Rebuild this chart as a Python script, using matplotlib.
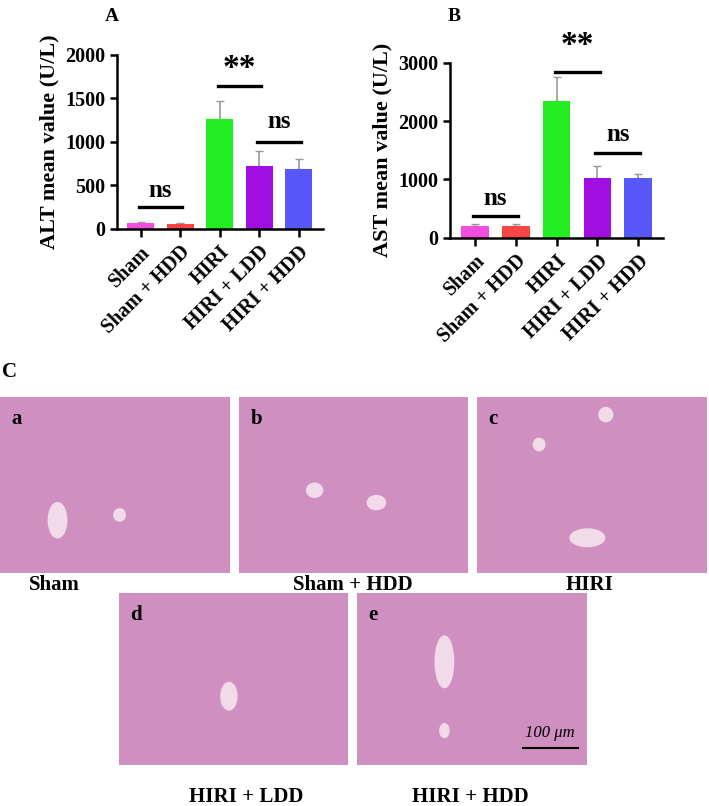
import matplotlib
matplotlib.use("Agg")
import matplotlib.pyplot as plt
from matplotlib.patches import Ellipse

plt.rcParams['font.family'] = ['Liberation Serif', 'DejaVu Serif']
plt.rcParams['font.weight'] = 'bold'

groups = ["Sham", "Sham + HDD", "HIRI", "HIRI + LDD", "HIRI + HDD"]
colors = ["#f24ce0", "#f54545", "#22ee22", "#a10ee0", "#5858fa"]
alt_mean = [70, 55, 1265, 725, 685]
alt_err = [15, 12, 200, 175, 120]
ast_mean = [205, 195, 2350, 1025, 1025]
ast_err = [25, 45, 400, 205, 65]
# (i, j, line y, text y, label)
alt_sig = [(0, 1, 250, 440, "ns"), (2, 3, 1640, 1840, "**"), (3, 4, 1000, 1230, "ns")]
ast_sig = [(0, 1, 380, 680, "ns"), (2, 3, 2850, 3300, "**"), (3, 4, 1450, 1770, "ns")]

panels_c = ["a", "b", "c", "d", "e"]
captions_c = ["Sham", "Sham + HDD", "HIRI", "HIRI + LDD", "HIRI + HDD"]

fig = plt.figure(figsize=(7.09, 8.06), dpi=100)


def bar_panel(rect, means, errs, sig, ymax, step, ylabel, letter, lx):
    ax = fig.add_axes(rect)
    x = range(len(means))
    ax.bar(x, means, width=0.68, color=colors, zorder=2)
    ax.errorbar(x, means, yerr=[[0] * len(errs), errs], fmt='none',
                ecolor='#999999', capsize=3, elinewidth=1.2, zorder=1)
    for i, j, ly, ty, s in sig:
        ax.plot([i - 0.05, j + 0.05], [ly, ly], color='k', lw=2.4, clip_on=False)
        ax.text((i + j) / 2, ty, s, ha='center', va='center',
                fontsize=24 if s == "**" else 18, fontweight='bold')
    ax.set_ylim(0, ymax)
    ax.set_yticks(range(0, ymax + 1, step))
    ax.set_xlim(-0.6, 4.6)
    ax.set_xticks(list(x))
    ax.set_xticklabels(groups, rotation=45, ha='right', rotation_mode='anchor',
                       fontsize=14.5, fontweight='bold')
    ax.tick_params(axis='y', labelsize=14.5, width=1.8, length=5)
    ax.tick_params(axis='x', width=1.8, length=6)
    for lbl in ax.get_yticklabels():
        lbl.set_fontweight('bold')
    ax.spines['top'].set_visible(False)
    ax.spines['right'].set_visible(False)
    ax.spines['left'].set_linewidth(1.8)
    ax.spines['bottom'].set_linewidth(1.8)
    ax.set_ylabel(ylabel, fontsize=16, fontweight='bold')
    fig.text(lx, 0.99, letter, fontsize=14, fontweight='bold', va='top')
    return ax


bar_panel([0.165, 0.716, 0.29, 0.216], alt_mean, alt_err, alt_sig, 2000, 500,
          "ALT mean value (U/L)", "A", 0.148)
bar_panel([0.635, 0.705, 0.30, 0.217], ast_mean, ast_err, ast_sig, 3000, 1000,
          "AST mean value (U/L)", "B", 0.632)

fig.text(0.003, 1 - 362 / 806, "C", fontsize=15, fontweight='bold', va='top')

img_boxes = [(0, 397, 230, 176), (239, 397, 229, 176), (477, 397, 230, 176),
             (119, 593, 229, 172), (357, 593, 230, 172)]
cap_y = [585, 585, 585, 797, 797]
cap_x = [54, 353, 590, 246, 470]
vessels = [[(0.25, 0.3, 0.08, 0.2), (0.52, 0.33, 0.05, 0.07)],
           [(0.33, 0.47, 0.07, 0.08), (0.6, 0.4, 0.08, 0.08)],
           [(0.27, 0.73, 0.05, 0.07), (0.56, 0.9, 0.06, 0.08), (0.48, 0.2, 0.15, 0.1)],
           [(0.48, 0.4, 0.07, 0.16)],
           [(0.38, 0.6, 0.08, 0.3), (0.38, 0.2, 0.04, 0.08)]]
for k, (px, py, pw, ph) in enumerate(img_boxes):
    ax = fig.add_axes([px / 709, 1 - (py + ph) / 806, pw / 709, ph / 806])
    ax.set_facecolor('#cf8fc0')
    for cx, cy, ew, eh in vessels[k]:
        ax.add_patch(Ellipse((cx, cy), ew, eh, color='#f1dbe8'))
    ax.set_xlim(0, 1)
    ax.set_ylim(0, 1)
    ax.set_xticks([])
    ax.set_yticks([])
    for sp in ax.spines.values():
        sp.set_visible(False)
    ax.text(0.05, 0.93, panels_c[k], fontsize=15, fontweight='bold', va='top',
            transform=ax.transAxes)
    fig.text(cap_x[k] / 709, 1 - cap_y[k] / 806, captions_c[k], fontsize=15,
             fontweight='bold', ha='center', va='center')
    if k == 4:
        ax.plot([0.72, 0.96], [0.1, 0.1], color='k', lw=1.5)
        ax.text(0.84, 0.14, "100 μm", ha='center', va='bottom', fontsize=12,
                fontstyle='italic', fontweight='normal')

fig.savefig("out.png", dpi=100)
